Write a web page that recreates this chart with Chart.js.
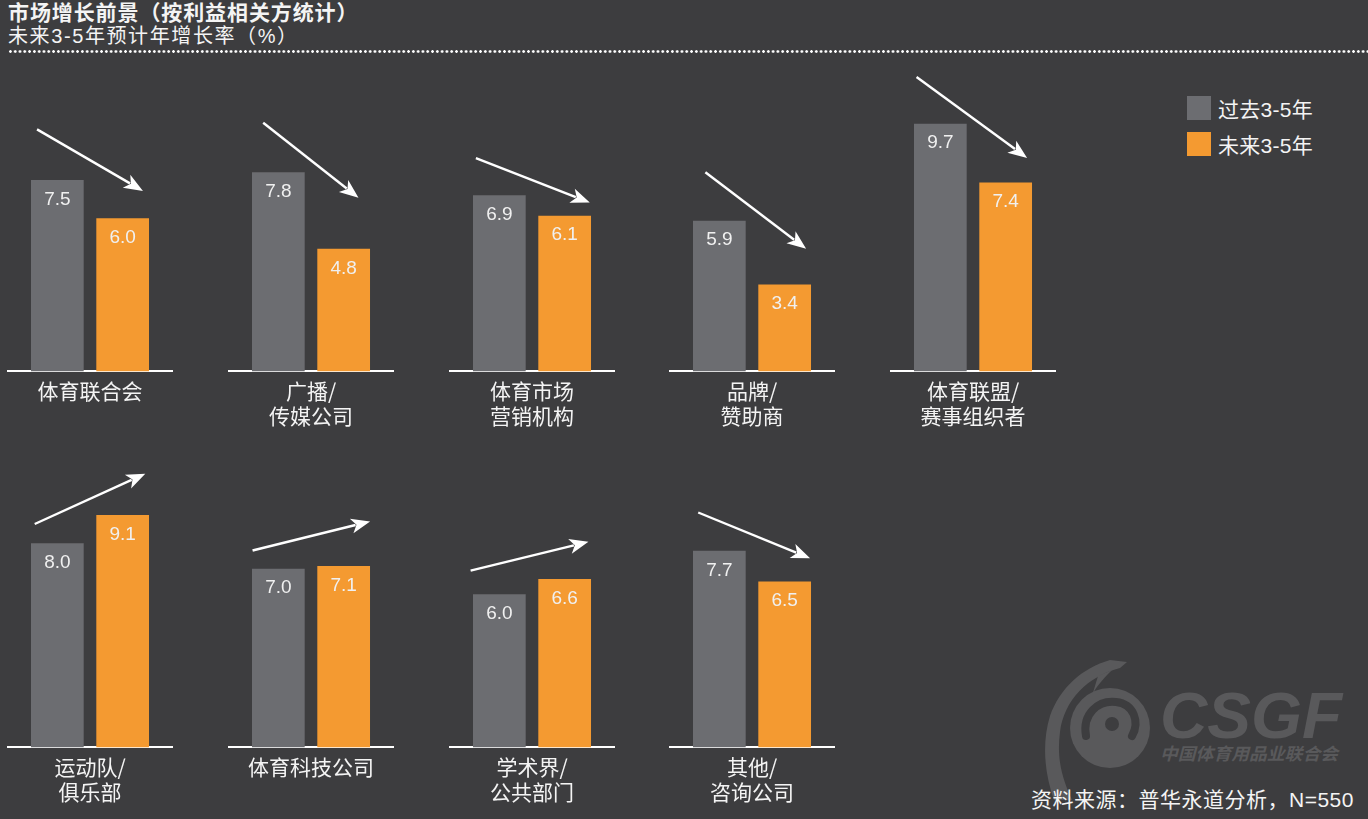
<!DOCTYPE html>
<html>
<head>
<meta charset="utf-8">
<script src="https://cdn.jsdelivr.net/npm/chart.js@4.4.1/dist/chart.umd.min.js"></script>
<style>
  html, body { margin:0; padding:0; }
  body { width:1368px; height:819px; background:#3d3d3f; position:relative; overflow:hidden;
         font-family:"Liberation Sans","Noto Sans CJK SC",sans-serif; color:#f4f4f4; }
  .title { position:absolute; left:8px; top:-4px; font-size:21px; font-weight:bold; letter-spacing:0.9px; white-space:nowrap; }
  .subtitle { position:absolute; left:8px; top:20px; font-size:20px; letter-spacing:1.6px; white-space:nowrap; }
  .dots { position:absolute; left:8px; right:0; top:50px; height:3px;
          background-image:radial-gradient(circle, #ffffff 1.2px, transparent 1.5px);
          background-size:4.8px 3px; background-repeat:repeat-x; }
  .panel { position:absolute; }
  .legend { position:absolute; left:1187px; top:96px; font-size:21px; }
  .legend .item { position:relative; height:36px; }
  .legend .sw { position:absolute; left:0; top:0; width:24px; height:24px; }
  .legend .tx { position:absolute; left:31px; top:-3px; white-space:nowrap; letter-spacing:0.3px; }
  .source { position:absolute; left:1031px; top:783px; font-size:21px; letter-spacing:0.5px; white-space:nowrap; }
  .wm { position:absolute; left:0; top:0; }
</style>
</head>
<body>
<svg class="wm" width="1368" height="819">
  <g fill="#59595b" stroke="none">
    <path d="M1110 660 L1127 662 L1120 668 C1088 676 1064 700 1060 732 C1056 762 1064 782 1072 800 L1054 800 C1044 772 1042 742 1050 716 C1060 688 1082 668 1110 660 Z"/>
    <path d="M1098 676 L1112 670 C1100 682 1094 690 1092 696 Z"/>
    <circle cx="1110" cy="728" r="40"/>
  </g>
  <path d="M1086 736 C1082 714 1098 700 1116 702 C1134 704 1140 722 1132 736" fill="none" stroke="#3d3d3f" stroke-width="8" stroke-linecap="round"/>
  <circle cx="1112" cy="724" r="7" fill="#3d3d3f"/>
  <text x="1160" y="738" fill="#59595b" font-family="Liberation Sans, sans-serif" font-weight="bold" font-style="italic" font-size="64" textLength="182" lengthAdjust="spacingAndGlyphs">CSGF</text>
  <text x="1160" y="760" fill="#59595b" font-family="Noto Sans CJK SC, sans-serif" font-weight="bold" font-style="italic" font-size="17" textLength="178" lengthAdjust="spacingAndGlyphs">中国体育用品业联合会</text>
</svg>

<div class="title">市场增长前景（按利益相关方统计）</div>
<div class="subtitle">未来3-5年预计年增长率（%）</div>
<div class="dots"></div>

<div class="legend">
  <div class="item"><div class="sw" style="background:#6c6d71"></div><div class="tx">过去3-5年</div></div>
  <div class="item"><div class="sw" style="background:#f49a31"></div><div class="tx">未来3-5年</div></div>
</div>
<div class="source">资料来源：普华永道分析，N=550</div>

<script>
// ---- data ----
const categories = [
  ["体育联合会"],
  ["广播/", "传媒公司"],
  ["体育市场", "营销机构"],
  ["品牌/", "赞助商"],
  ["体育联盟/", "赛事组织者"],
  ["运动队/", "俱乐部"],
  ["体育科技公司"],
  ["学术界/", "公共部门"],
  ["其他/", "咨询公司"]
];
const seriesNames = ["过去3-5年", "未来3-5年"];
const pastValues   = [7.5, 7.8, 6.9, 5.9, 9.7, 8.0, 7.0, 6.0, 7.7];
const futureValues = [6.0, 4.8, 6.1, 3.4, 7.4, 9.1, 7.1, 6.6, 6.5];
// trend arrows (x in category units relative to centre, y in value units)
const arrowFromX = [-0.319, -0.288, -0.338, -0.281, -0.340, -0.333, -0.352, -0.370, -0.324];
const arrowFromY = [9.48, 9.74, 8.35, 7.80, 11.53, 8.75, 7.71, 6.92, 9.20];
const arrowToX   = [0.319, 0.286, 0.348, 0.326, 0.326, 0.333, 0.356, 0.340, 0.350];
const arrowToY   = [7.07, 6.80, 6.61, 4.80, 8.36, 10.72, 8.85, 8.05, 7.41];

// ---- layout ----
const COLORS = ["#6c6d71", "#f49a31"];
const Y_MAX = 12;
const PX_PER_UNIT = 25.53;
const AXIS_H = 62;
const PANEL_W = 166;
const panelLefts = [7, 228, 448.5, 669, 889.5, 7, 228, 448.5, 669];
const panelBaselines = [371, 371, 371, 371, 371, 747, 747, 747, 747];

const valueLabelPlugin = {
  id: 'valueLabels',
  afterDatasetsDraw(chart) {
    const ctx = chart.ctx;
    ctx.save();
    ctx.font = '19px "Liberation Sans", Arial, sans-serif';
    ctx.fillStyle = '#f0f0f0';
    ctx.textAlign = 'center';
    ctx.textBaseline = 'middle';
    chart.data.datasets.forEach((ds, di) => {
      chart.getDatasetMeta(di).data.forEach((bar, i) => {
        ctx.fillText(ds.data[i].toFixed(1), bar.x, bar.y + 19.5);
      });
    });
    ctx.restore();
  }
};

const arrowPlugin = {
  id: 'trendArrow',
  afterDraw(chart, args, opts) {
    const xs = chart.scales.x, ys = chart.scales.y;
    const x1 = xs.getPixelForValue(opts.fx), y1 = ys.getPixelForValue(opts.fy);
    const x2 = xs.getPixelForValue(opts.tx), y2 = ys.getPixelForValue(opts.ty);
    const ctx = chart.ctx;
    const ang = Math.atan2(y2 - y1, x2 - x1);
    const L = 19, W = 7.5;
    ctx.save();
    ctx.strokeStyle = '#ffffff';
    ctx.fillStyle = '#ffffff';
    ctx.lineWidth = 2.4;
    ctx.beginPath();
    ctx.moveTo(x1, y1);
    ctx.lineTo(x2 - Math.cos(ang) * (L - 4), y2 - Math.sin(ang) * (L - 4));
    ctx.stroke();
    ctx.translate(x2, y2);
    ctx.rotate(ang);
    ctx.beginPath();
    ctx.moveTo(0, 0);
    ctx.lineTo(-L, -W);
    ctx.lineTo(-L + 5, 0);
    ctx.lineTo(-L, W);
    ctx.closePath();
    ctx.fill();
    ctx.restore();
  }
};

const areaH = Y_MAX * PX_PER_UNIT;
categories.forEach((cat, i) => {
  const div = document.createElement('div');
  div.className = 'panel';
  div.style.left = panelLefts[i] + 'px';
  div.style.top = (panelBaselines[i] - areaH) + 'px';
  div.style.width = PANEL_W + 'px';
  div.style.height = (areaH + AXIS_H) + 'px';
  const canvas = document.createElement('canvas');
  div.appendChild(canvas);
  document.body.appendChild(div);

  new Chart(canvas, {
    type: 'bar',
    data: {
      labels: [cat],
      datasets: [
        { label: seriesNames[0], data: [pastValues[i]], backgroundColor: COLORS[0] },
        { label: seriesNames[1], data: [futureValues[i]], backgroundColor: COLORS[1] }
      ]
    },
    options: {
      responsive: true,
      maintainAspectRatio: false,
      animation: false,
      events: [],
      layout: { padding: 0 },
      categoryPercentage: 0.787,
      barPercentage: 0.807,
      plugins: {
        legend: { display: false },
        tooltip: { enabled: false },
        trendArrow: { fx: arrowFromX[i], fy: arrowFromY[i], tx: arrowToX[i], ty: arrowToY[i] }
      },
      scales: {
        x: {
          grid: { display: false, drawTicks: false },
          border: { display: true, color: '#ffffff', width: 2 },
          ticks: {
            color: '#f4f4f4',
            padding: 8,
            maxRotation: 0,
            autoSkip: false,
            font: { family: '"Noto Sans CJK SC", sans-serif', size: 21, lineHeight: 1.15 }
          },
          afterFit(scale) { scale.height = AXIS_H; }
        },
        y: {
          display: false,
          min: 0,
          max: Y_MAX
        }
      }
    },
    plugins: [valueLabelPlugin, arrowPlugin]
  });
});
</script>
</body>
</html>
